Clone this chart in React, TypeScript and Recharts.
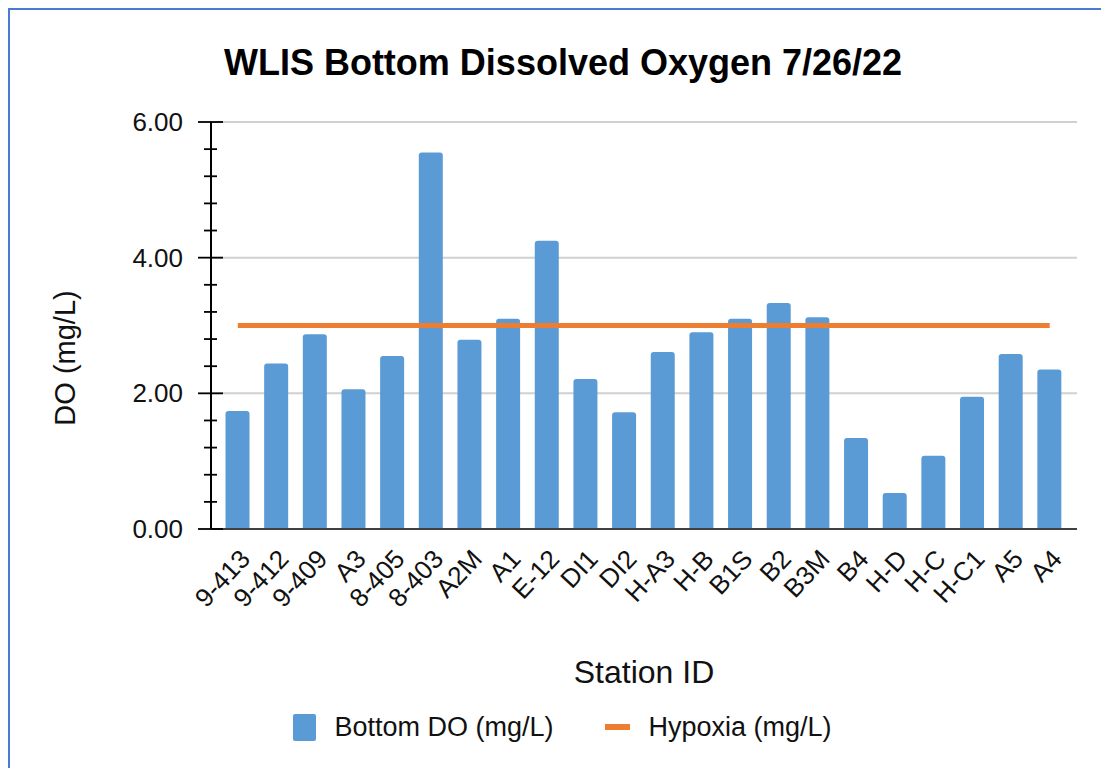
import React from 'react';
import { ComposedChart, Bar, Line, XAxis, YAxis, CartesianGrid, Legend } from 'recharts';

const stations = [
  '9-413', '9-412', '9-409', 'A3', '8-405', '8-403', 'A2M', 'A1', 'E-12', 'DI1', 'DI2',
  'H-A3', 'H-B', 'B1S', 'B2', 'B3M', 'B4', 'H-D', 'H-C', 'H-C1', 'A5', 'A4',
];
const bottomDO = [
  1.74, 2.44, 2.87, 2.06, 2.55, 5.55, 2.79, 3.1, 4.25, 2.21, 1.72,
  2.61, 2.9, 3.1, 3.33, 3.12, 1.34, 0.53, 1.08, 1.95, 2.58, 2.35,
];
const hypoxia = [3, 3, 3, 3, 3, 3, 3, 3, 3, 3, 3, 3, 3, 3, 3, 3, 3, 3, 3, 3, 3, 3];
const yMajorTicks = [0, 2, 4, 6];
const yMinorTicks = [0.4, 0.8, 1.2, 1.6, 2.4, 2.8, 3.2, 3.6, 4.4, 4.8, 5.2, 5.6];

const data = stations.map((station, i) => ({
  station,
  bottomDO: bottomDO[i],
  hypoxia: hypoxia[i],
}));

const FONT = '"Liberation Sans", Arial, sans-serif';
const BLUE = '#5b9bd5';
const ORANGE = '#ed7d31';
const W = 1091;
const H = 758;

function StationTick(props: any) {
  const { x, y, payload } = props;
  return (
    <g transform={`translate(${x + 7},${y + 25})`}>
      <text
        textAnchor="end"
        dy="0.35em"
        transform="rotate(-47)"
        fontSize={26}
        fontFamily={FONT}
        fill="#111"
      >
        {payload.value}
      </text>
    </g>
  );
}

function DoTick(props: any) {
  const { x, y, payload } = props;
  const major = yMajorTicks.includes(payload.value);
  return (
    <g>
      <line
        x1={x - (major ? 13 : 7)}
        x2={x + (major ? 12 : 6)}
        y1={y}
        y2={y}
        stroke="#000"
        strokeWidth={1.8}
      />
      {major && (
        <text x={x - 28} y={y} dy="0.35em" textAnchor="end" fontSize={26} fontFamily={FONT} fill="#111">
          {payload.value.toFixed(2)}
        </text>
      )}
    </g>
  );
}

function LegendBox() {
  return (
    <div
      style={{
        height: 40,
        display: 'flex',
        alignItems: 'center',
        justifyContent: 'center',
        paddingLeft: 14,
        fontFamily: FONT,
        fontSize: 27,
        color: '#111',
      }}
    >
      <span style={{ width: 23, height: 27, background: BLUE, borderRadius: 2, marginRight: 18 }} />
      <span>Bottom DO (mg/L)</span>
      <span style={{ width: 25, height: 6, background: ORANGE, marginLeft: 52, marginRight: 18 }} />
      <span>Hypoxia (mg/L)</span>
    </div>
  );
}

export default function App() {
  return (
    <div
      style={{
        position: 'relative',
        width: 1099,
        height: 766,
        marginRight: -8,
        marginBottom: -8,
        borderTop: '2px solid #4a7bd0',
        borderLeft: '2px solid #4a7bd0',
        background: '#fff',
      }}
    >
      <ComposedChart
        width={W}
        height={H}
        data={data}
        margin={{ top: 112, right: 24, bottom: 21, left: 0 }}
      >
        <CartesianGrid horizontal vertical={false} horizontalValues={yMajorTicks} stroke="#d0d0d0" strokeWidth={2} />
        <XAxis
          dataKey="station"
          interval={0}
          height={178}
          tickLine={false}
          tickSize={0}
          tickMargin={0}
          padding={{ left: 7.5, right: 8 }}
          axisLine={{ stroke: '#404040', strokeWidth: 2 }}
          tick={<StationTick />}
          label={{ value: 'Station ID', position: 'insideBottom', offset: 24, fontSize: 32, fill: '#111', fontFamily: FONT }}
        />
        <YAxis
          type="number"
          domain={[0, 6]}
          ticks={[...yMajorTicks, ...yMinorTicks].sort((a, b) => a - b)}
          interval={0}
          width={201}
          tickLine={false}
          tickSize={0}
          tickMargin={0}
          axisLine={{ stroke: '#000', strokeWidth: 2 }}
          tick={<DoTick />}
        />
        <Bar dataKey="bottomDO" name="Bottom DO (mg/L)" fill={BLUE} barSize={24} radius={[3, 3, 0, 0]} isAnimationActive={false} />
        <Line
          type="linear"
          dataKey="hypoxia"
          name="Hypoxia (mg/L)"
          stroke={ORANGE}
          strokeWidth={5}
          dot={false}
          activeDot={false}
          isAnimationActive={false}
        />
        <Legend verticalAlign="bottom" wrapperStyle={{ left: 0, width: W }} content={() => <LegendBox />} />
      </ComposedChart>
      <svg width={W} height={H} style={{ position: 'absolute', left: 0, top: 0, pointerEvents: 'none' }}>
        <text x={553} y={65} textAnchor="middle" fontSize={36} fontWeight="bold" fontFamily={FONT} fill="#000">
          WLIS Bottom Dissolved Oxygen 7/26/22
        </text>
        <text
          x={55}
          y={348}
          textAnchor="middle"
          dy="0.35em"
          transform="rotate(-90, 55, 348)"
          fontSize={29}
          fontFamily={FONT}
          fill="#111"
        >
          DO (mg/L)
        </text>
      </svg>
    </div>
  );
}
